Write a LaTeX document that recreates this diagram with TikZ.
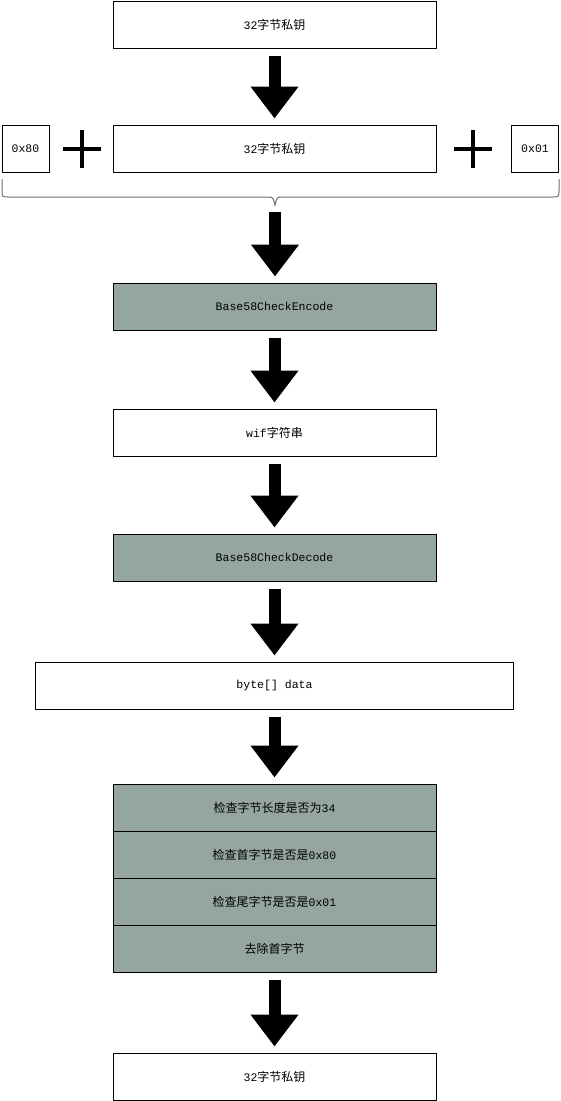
\documentclass[tikz,border=0pt]{standalone}
\usepackage{fontspec}
\setmonofont[Scale=0.96]{Liberation Mono}
\newfontfamily\cjk{Noto Sans CJK SC}
\usetikzlibrary{arrows.meta}

\definecolor{checkgray}{RGB}{149,165,162}
\definecolor{bracegray}{RGB}{110,110,110}
\newcommand\zhtext[1]{{\cjk #1}}

\begin{document}
\begin{tikzpicture}[x=1pt,y=-1pt,
    every node/.style={font=\ttfamily\fontsize{12}{14}\selectfont},
    block/.style={draw,line width=1pt,minimum width=323pt,minimum height=47pt,inner sep=0pt},
    smallblock/.style={draw,line width=1pt,minimum width=47pt,minimum height=47pt,inner sep=0pt},
    grayblock/.style={block,fill=checkgray},
    bigarrow/.style={line width=12pt,-{Triangle[width=46pt,length=32pt]},
        shorten <=7pt,shorten >=6pt},
    plusmark/.style={line width=4pt}]
    %
    % Independent parameters
    \def\midX{274.5}                                        % column centre
    \def\plusR{19}                                          % half size of plus
    %
    \useasboundingbox (0,0) rectangle (561,1101);
    %
    % boxes
    \node[block]      (keyTop)  at (\midX,24.5)  {32\zhtext{字节私钥}};
    \node[block]      (keyMid)  at (\midX,148.5) {32\zhtext{字节私钥}};
    \node[smallblock] (prefix)  at (25.5,148.5)  {0x80};
    \node[smallblock] (suffix)  at (535,148.5)   {0x01};
    \node[grayblock]  (encode)  at (\midX,306.5) {Base58CheckEncode};
    \node[block]      (wif)     at (\midX,432.5) {wif\zhtext{字符串}};
    \node[grayblock]  (decode)  at (\midX,557.5) {Base58CheckDecode};
    \node[block,minimum width=478pt] (data) at (\midX,685.5) {byte[] data};
    %
    % checks
    \node[grayblock]  (checkLen)   at (\midX,807.5) {\zhtext{检查字节长度是否为}34};
    \node[grayblock]  (checkFirst) at (\midX,854.5) {\zhtext{检查首字节是否是}0x80};
    \node[grayblock]  (checkLast)  at (\midX,901.5) {\zhtext{检查尾字节是否是}0x01};
    \node[grayblock]  (dropFirst)  at (\midX,948.5) {\zhtext{去除首字节}};
    \node[block]      (keyOut)     at (\midX,1076.5) {32\zhtext{字节私钥}};
    %
    % plus signs
    \coordinate (plusL) at (82,149);
    \coordinate (plusR) at (473,149);
    \foreach \p in {plusL,plusR}
    {
     \draw[plusmark] ([yshift=-\plusR pt]\p) -- ([yshift=\plusR pt]\p)
                     ([xshift=-\plusR pt]\p) -- ([xshift=\plusR pt]\p);
    }
    %
    % brace
    \coordinate (braceTip) at (275,205);
    \draw[bracegray,line width=1pt]
        (2,179) -- (2,190) .. controls (2,197) .. (9,197) -- (267,197)
        .. controls (273,197) .. (braceTip) .. controls (277,197) .. (283,197)
        -- (552,197) .. controls (559,197) .. (559,190) -- (559,179);
    %
    % arrows
    \draw[bigarrow] (keyTop.south) -- (keyMid.north);
    \draw[bigarrow] (braceTip) -- (braceTip |- encode.north);
    \draw[bigarrow] (encode.south) -- (wif.north);
    \draw[bigarrow] (wif.south) -- (decode.north);
    \draw[bigarrow] (decode.south) -- (data.north);
    \draw[bigarrow] (data.south) -- (checkLen.north);
    \draw[bigarrow] (dropFirst.south) -- (keyOut.north);
\end{tikzpicture}
\end{document}
